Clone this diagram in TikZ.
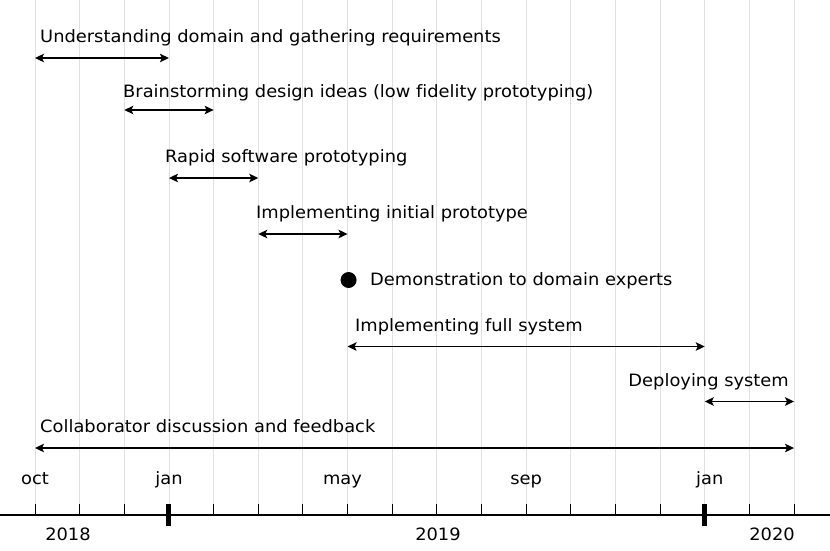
\documentclass[tikz,border=0pt]{standalone}
\usepackage{fontspec}
\setmainfont[Ligatures=CommonOff,FakeStretch=1.05]{DejaVu Sans}
\usetikzlibrary{arrows.meta}
\begin{document}
\begin{tikzpicture}[x=1pt,y=-1pt,
  lbl/.style={anchor=base west,inner sep=0pt,font=\fontsize{17}{19}\selectfont},
  axlbl/.style={anchor=base,inner sep=0pt,font=\fontsize{17}{19}\selectfont},
  span/.style={{Stealth[length=9pt,width=8.5pt,inset=2pt]}-{Stealth[length=9pt,width=8.5pt,inset=2pt]},line width=1.3pt},
  grid/.style={draw=black!12,line width=0.9pt}]
\useasboundingbox (0,0) rectangle (830,550);
\def\gx#1{35+44.65*#1}
% grid lines and ticks
\foreach \i in {0,...,17}{
  \coordinate (g\i) at ({\gx{\i}},0);
  \coordinate (t\i) at ({\gx{\i}},504);
  \coordinate (b\i) at ({\gx{\i}},515);
  \draw[grid] (g\i) -- (t\i);
  \draw[line width=1pt] (t\i) -- (b\i);
}
% baseline
\coordinate (axL) at (0,515);
\coordinate (axR) at (830,515);
\draw[line width=1.2pt] (axL) -- (axR);
% year ticks
\foreach \i in {3,15}{
  \coordinate (yt\i) at ({\gx{\i}},504);
  \coordinate (yb\i) at ({\gx{\i}},526);
  \draw[line width=5pt] (yt\i) -- (yb\i);
}
% month labels
\node[axlbl] (moct) at ({\gx{0}},484) {oct};
\node[axlbl] (mjan1) at ({\gx{3}},484) {jan};
\node[axlbl] (mmay) at ({\gx{7}-5},484) {may};
\node[axlbl] (msep) at ({\gx{11}},484) {sep};
\node[axlbl] (mjan2) at ({\gx{15}+5},484) {jan};
% year labels
\node[axlbl] (y2018) at (68,540) {2018};
\node[axlbl] (y2019) at (438,540) {2019};
\node[axlbl] (y2020) at (772,540) {2020};
% task arrows
\coordinate (a1s) at ({\gx{0}},58);  \coordinate (a1e) at ({\gx{3}},58);
\coordinate (a2s) at ({\gx{2}},110); \coordinate (a2e) at ({\gx{4}},110);
\coordinate (a3s) at ({\gx{3}},178); \coordinate (a3e) at ({\gx{5}},178);
\coordinate (a4s) at ({\gx{5}},234); \coordinate (a4e) at ({\gx{7}},234);
\coordinate (a6s) at ({\gx{7}},346.5); \coordinate (a6e) at ({\gx{15}},346.5);
\coordinate (a7s) at ({\gx{15}},401.5); \coordinate (a7e) at ({\gx{17}},401.5);
\coordinate (a8s) at ({\gx{0}},448);  \coordinate (a8e) at ({\gx{17}},448);
\draw[span] (a1s) -- (a1e);
\draw[span] (a2s) -- (a2e);
\draw[span] (a3s) -- (a3e);
\draw[span] (a4s) -- (a4e);
\draw[span] (a6s) -- (a6e);
\draw[span] (a7s) -- (a7e);
\draw[span] (a8s) -- (a8e);
% task labels
\node[lbl] (l1) at (40,42) {Understanding domain and gathering requirements};
\node[lbl] (l2) at (123,97) {Brainstorming design ideas (low fidelity prototyping)};
\node[lbl] (l3) at (165,162) {Rapid software prototyping};
\node[lbl] (l4) at (256,218) {Implementing initial prototype};
\node[lbl] (l6) at (355,331) {Implementing full system};
\node[lbl,anchor=base east] (l7) at (789,386) {Deploying system};
\node[lbl] (l8) at (40,432) {Collaborator discussion and feedback};
% milestone
\node[circle,fill=black,minimum size=16pt,inner sep=0pt] (dot) at ({\gx{7}+1},280) {};
\node[lbl] (l5) at (370,285.5) {Demonstration to domain experts};
\end{tikzpicture}
\end{document}
